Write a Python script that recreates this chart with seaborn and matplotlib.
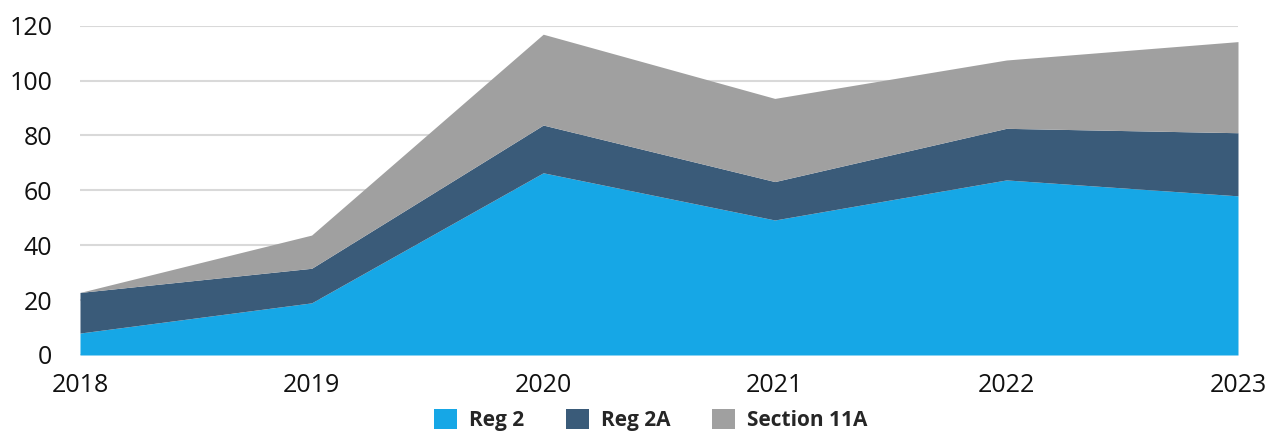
import matplotlib
matplotlib.use("Agg")
import matplotlib.pyplot as plt
from matplotlib.patches import Patch
import seaborn as sns

years = ["2018", "2019", "2020", "2021", "2022", "2023"]
reg_2 = [8, 19, 66.4, 49.2, 63.8, 58]
reg_2a = [14.8, 12.6, 17.4, 14, 18.8, 23]
section_11a = [0, 12.1, 33.1, 30.3, 24.9, 33.2]
series_names = ["Reg 2", "Reg 2A", "Section 11A"]
y_ticks = [0, 20, 40, 60, 80, 100, 120]

colors = ["#16A7E6", "#3A5B79", "#A0A0A0"]

sns.set_theme(style="whitegrid")
plt.rcParams["font.family"] = ["Open Sans", "DejaVu Sans"]

fig = plt.figure(figsize=(12.66, 4.32), dpi=100)
ax = fig.add_axes([80 / 1266, 1 - 355 / 432, (1238 - 80) / 1266, (355 - 25.7) / 432])

x = list(range(len(years)))
ax.stackplot(x, reg_2, reg_2a, section_11a, colors=colors, labels=series_names,
             linewidth=0, zorder=2)

ax.set_xlim(0, len(years) - 1)
ax.set_ylim(0, 120)
ax.set_xticks(x)
ax.set_xticklabels(years)
ax.set_yticks(y_ticks)
ax.grid(axis="y", color="#D9D9D9", linewidth=1.5, zorder=0)
ax.grid(axis="x", visible=False)
for s in ax.spines.values():
    s.set_visible(False)
ax.tick_params(axis="y", labelsize=18, pad=20, length=0, labelcolor="#111111")
ax.tick_params(axis="x", labelsize=18, pad=13, length=0, labelcolor="#111111")

handles = [Patch(facecolor=c, edgecolor="none") for c in colors]
fig.legend(handles, series_names, loc="center", bbox_to_anchor=(651 / 1266, 1 - 420 / 432),
           ncol=3, frameon=False, prop={"weight": "bold", "size": 15},
           handlelength=1.1, handleheight=1.1, handletextpad=0.58, columnspacing=2.0,
           borderpad=0)

fig.savefig("out.png", dpi=100)
